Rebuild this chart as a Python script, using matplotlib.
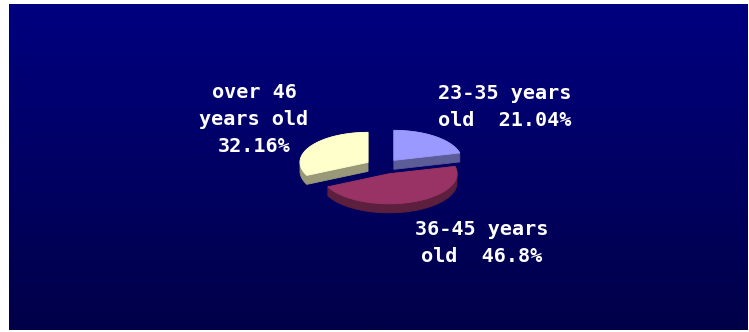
import numpy as np
import matplotlib
matplotlib.use("Agg")
import matplotlib.pyplot as plt
from matplotlib.patches import Polygon

# ---- data ----
categories = ["23-35 years\nold  21.04%", "36-45 years\nold  46.8%", "over 46\nyears old\n32.16%"]
values = [21.04, 46.8, 32.16]
top_colors = ["#9999FF", "#993366", "#FFFFCC"]
side_colors = ["#5C5C99", "#5C1F3D", "#99997A"]
label_pos = [(505, 107), (482, 243), (254, 119.5)]

W, H = 749, 332
fig = plt.figure(figsize=(W / 100, H / 100), dpi=100)
fig.patch.set_facecolor("white")
ax = fig.add_axes([0, 0, 1, 1])

# background gradient
n = 256
top = np.array([0, 0, 128]) / 255.0
bot = np.array([0, 0, 72]) / 255.0
t = np.linspace(0, 1, n)[:, None]
grad = (top[None, :] * (1 - t) + bot[None, :] * t)[:, None, :]
ax.imshow(grad, extent=(9, 748, 330, 4), aspect="auto", origin="upper", zorder=0)

ax.set_xlim(0, W)
ax.set_ylim(H, 0)
ax.axis("off")

# pie geometry (pixel space)
cx, cy = 383, 166.5
rx, ry = 68, 30
depth = 9
explode = 0.26


def hull(pts):
    pts = sorted(set(map(tuple, np.round(pts, 4))))
    if len(pts) <= 2:
        return np.array(pts)

    def cross(o, a, b):
        return (a[0] - o[0]) * (b[1] - o[1]) - (a[1] - o[1]) * (b[0] - o[0])

    lower, upper = [], []
    for p in pts:
        while len(lower) >= 2 and cross(lower[-2], lower[-1], p) <= 0:
            lower.pop()
        lower.append(p)
    for p in reversed(pts):
        while len(upper) >= 2 and cross(upper[-2], upper[-1], p) <= 0:
            upper.pop()
        upper.append(p)
    return np.array(lower[:-1] + upper[:-1])


total = sum(values)
start = 90.0
slices = []
for i, v in enumerate(values):
    sweep = 360.0 * v / total
    t1, t2 = start - sweep, start
    mid = np.radians((t1 + t2) / 2)
    ox = cx + explode * rx * np.cos(mid)
    oy = cy - explode * ry * np.sin(mid)
    th = np.radians(np.linspace(t1, t2, 120))
    arc = np.column_stack([ox + rx * np.cos(th), oy - ry * np.sin(th)])
    top_poly = np.vstack([[ox, oy], arc])
    slices.append((np.sin(mid), i, top_poly))
    start = t1

# back slices first
for s, i, top_poly in sorted(slices, key=lambda x: -x[0]):
    bottom_poly = top_poly + np.array([0, depth])
    h = hull(np.vstack([top_poly, bottom_poly]))
    ax.add_patch(Polygon(h, closed=True, facecolor=side_colors[i],
                         edgecolor=side_colors[i], linewidth=0.6, zorder=2))
    ax.add_patch(Polygon(top_poly, closed=True, facecolor=top_colors[i],
                         edgecolor=top_colors[i], linewidth=0.6, zorder=3))

for i, (lx, ly) in enumerate(label_pos):
    ax.text(lx, ly, categories[i], color="white", fontsize=14.5,
            fontweight="bold", family="DejaVu Sans Mono",
            ha="center", va="center", multialignment="center",
            linespacing=1.55, zorder=5)

fig.savefig("out.png", dpi=100, facecolor="white")
